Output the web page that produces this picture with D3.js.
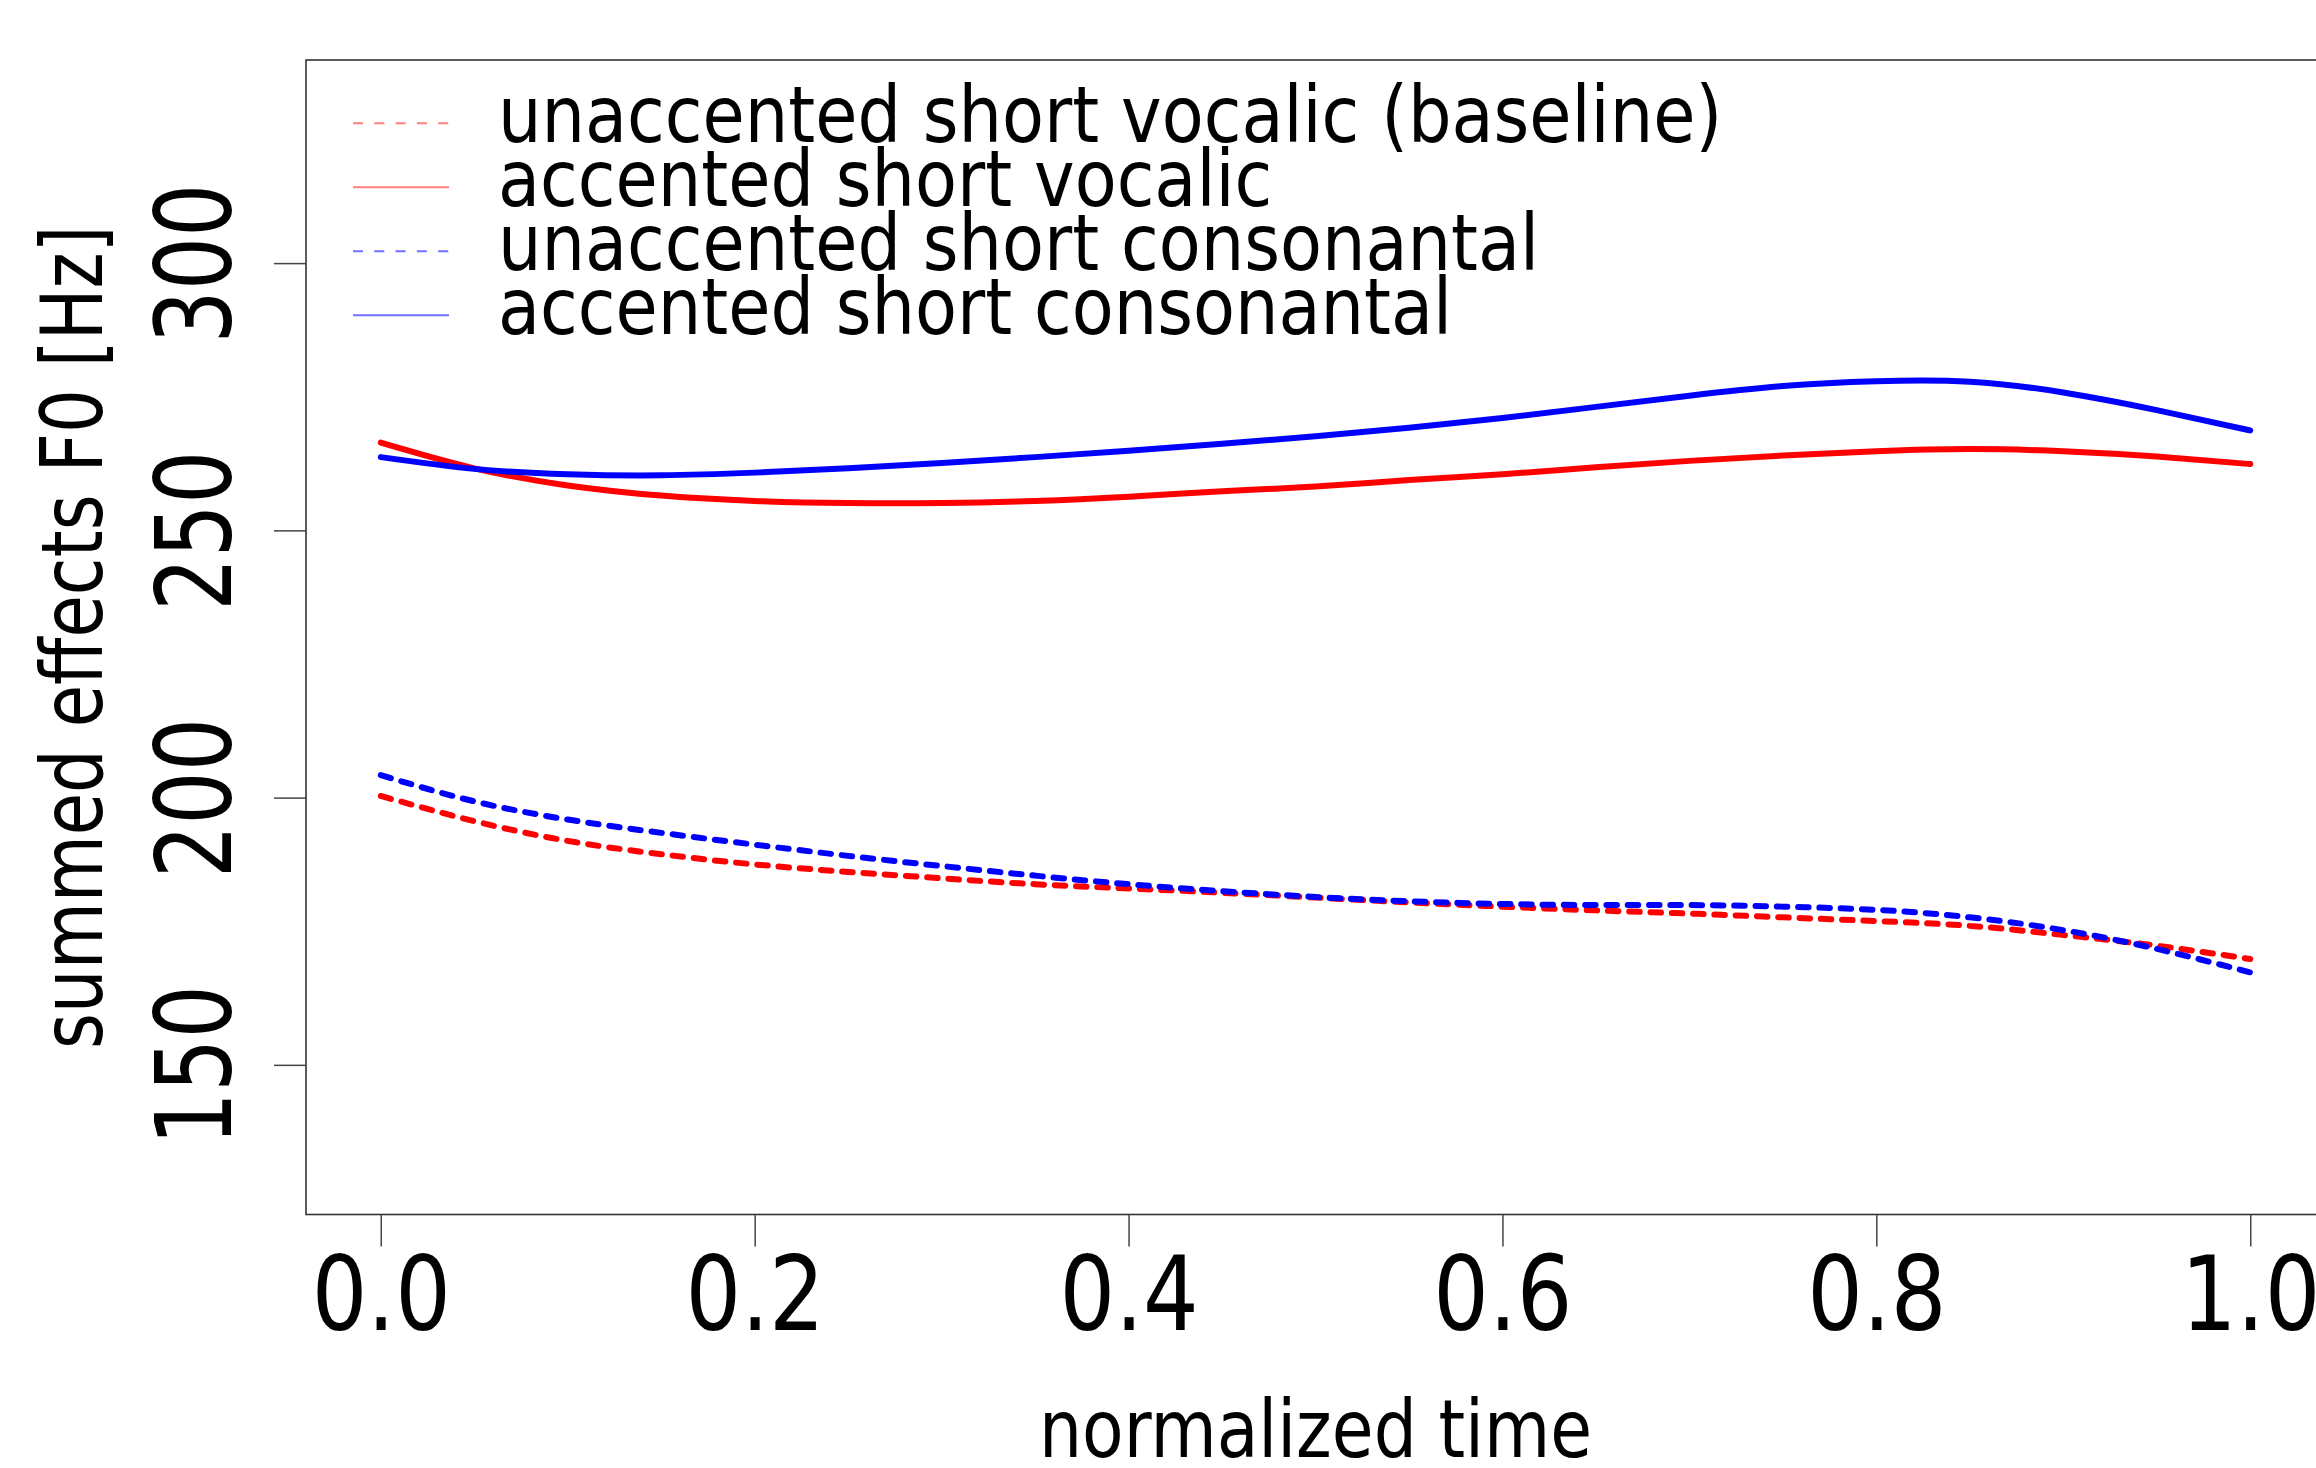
<!DOCTYPE html>
<html>
<head>
<meta charset="utf-8">
<script src="https://cdn.jsdelivr.net/npm/d3@7"></script>
<style>
  body { margin: 0; background: #fff; }
  text { font-family: "DejaVu Sans", sans-serif; fill: #000; }
</style>
</head>
<body>
<svg id="chart"></svg>
<script>
// normalized time grid and the four summed-effect curves (Hz)
const time = [0, 0.05, 0.1, 0.15, 0.2, 0.25, 0.3, 0.35, 0.4, 0.45, 0.5,
  0.55, 0.6, 0.65, 0.7, 0.75, 0.8, 0.85, 0.9, 0.95, 1.0];
const unaccentedVocalic = [200.3, 195.6, 191.9, 189.4, 187.5, 186.1, 184.9, 183.8, 183.0, 182.2, 181.3,
  180.4, 179.6, 178.9, 178.3, 177.6, 176.9, 176.0, 174.3, 172.3, 169.8];
const accentedVocalic = [266.4, 261.6, 258.4, 256.5, 255.5, 255.1, 255.1, 255.5, 256.3, 257.3, 258.2,
  259.4, 260.5, 261.8, 263.0, 264.0, 264.8, 265.2, 264.8, 263.8, 262.4];
const unaccentedConsonantal = [204.2, 199.3, 195.9, 193.4, 191.2, 189.1, 187.2, 185.4, 183.8, 182.5, 181.4,
  180.6, 180.1, 179.9, 179.9, 179.6, 179.0, 177.6, 175.2, 171.7, 167.3];
const accentedConsonantal = [263.7, 261.5, 260.5, 260.3, 260.8, 261.6, 262.6, 263.7, 264.9, 266.2, 267.6,
  269.2, 271.0, 273.1, 275.2, 277.0, 277.9, 277.8, 275.8, 272.5, 268.7];

const seriesNames = [
  'unaccented short vocalic (baseline)',
  'accented short vocalic',
  'unaccented short consonantal',
  'accented short consonantal'
];
const seriesValues = [unaccentedVocalic, accentedVocalic, unaccentedConsonantal, accentedConsonantal];
const seriesColors = ['#ff0000', '#ff0000', '#0000ff', '#0000ff'];
const legendColors = ['#ff7f7f', '#ff7f7f', '#7070ff', '#7070ff'];
const seriesDashed = [true, false, true, false];

const xTicks = [0, 0.2, 0.4, 0.6, 0.8, 1.0];
const yTicks = [150, 200, 250, 300];

const width = 2316, height = 1468;
const plot = { left: 306, right: 2325, top: 60, bottom: 1214.5 };

const svg = d3.select('#chart').attr('width', width).attr('height', height);

const x = d3.scaleLinear().domain([-0.04, 1.04]).range([plot.left, plot.right]);
const y = d3.scaleLinear().domain([122, 338]).range([plot.bottom, plot.top]);

// squeeze text horizontally, the source font is narrower than DejaVu
function squeeze(sel, k) {
  sel.each(function () {
    const len = this.getComputedTextLength();
    d3.select(this).attr('textLength', len * k).attr('lengthAdjust', 'spacingAndGlyphs');
  });
}

// curves
const line = d3.line()
  .x((d, i) => x(time[i]))
  .y(d => y(d))
  .curve(d3.curveNatural);

seriesValues.forEach((vals, i) => {
  svg.append('path')
    .datum(vals)
    .attr('d', line)
    .attr('fill', 'none')
    .attr('stroke', seriesColors[i])
    .attr('stroke-width', 6)
    .attr('stroke-linecap', 'round')
    .attr('stroke-dasharray', seriesDashed[i] ? '10.5,10.8' : null);
});

// box
svg.append('rect')
  .attr('x', plot.left)
  .attr('y', plot.top)
  .attr('width', plot.right - plot.left)
  .attr('height', plot.bottom - plot.top)
  .attr('fill', 'none')
  .attr('stroke', '#333')
  .attr('stroke-width', 1.6);

// x axis
const gx = svg.append('g')
  .attr('transform', 'translate(0,' + plot.bottom + ')')
  .call(d3.axisBottom(x).tickValues(xTicks).tickSize(32).tickFormat(d3.format('.1f')));
gx.select('.domain').remove();
gx.selectAll('.tick line').attr('stroke', '#444').attr('stroke-width', 1.5);
gx.selectAll('.tick text')
  .attr('y', 115.5)
  .attr('dy', 0)
  .attr('font-size', 103)
  .attr('fill', '#000')
  .call(squeeze, 0.85);

// y axis
const gy = svg.append('g')
  .attr('transform', 'translate(' + plot.left + ',0)')
  .call(d3.axisLeft(y).tickValues(yTicks).tickSize(32));
gy.select('.domain').remove();
gy.selectAll('.tick line').attr('stroke', '#444').attr('stroke-width', 1.5);
gy.selectAll('.tick text')
  .attr('x', 0)
  .attr('dy', 0)
  .attr('text-anchor', 'middle')
  .attr('transform', 'translate(-75.3,0) rotate(-90)')
  .attr('font-size', 105)
  .attr('fill', '#000')
  .call(squeeze, 0.8);

// axis titles
svg.append('text')
  .attr('x', (plot.left + plot.right) / 2)
  .attr('y', 1456.7)
  .attr('text-anchor', 'middle')
  .attr('font-size', 80)
  .text('normalized time')
  .call(squeeze, 0.85);

svg.append('text')
  .attr('transform', 'translate(102,' + ((plot.top + plot.bottom) / 2) + ') rotate(-90)')
  .attr('text-anchor', 'middle')
  .attr('font-size', 85)
  .text('summed effects F0 [Hz]')
  .call(squeeze, 0.81);

// legend
const legend = svg.append('g').attr('transform', 'translate(353,123.3)');
const rows = legend.selectAll('g')
  .data(seriesNames)
  .join('g')
  .attr('transform', (d, i) => 'translate(0,' + i * 64 + ')');

rows.append('line')
  .attr('x1', 0)
  .attr('x2', 96)
  .attr('stroke', (d, i) => legendColors[i])
  .attr('stroke-width', 2)
  .attr('stroke-dasharray', (d, i) => seriesDashed[i] ? '10,11.3' : null);

rows.append('text')
  .attr('x', 145)
  .attr('y', 18.4)
  .attr('font-size', 78)
  .text(d => d)
  .call(squeeze, 0.88);
</script>
</body>
</html>
